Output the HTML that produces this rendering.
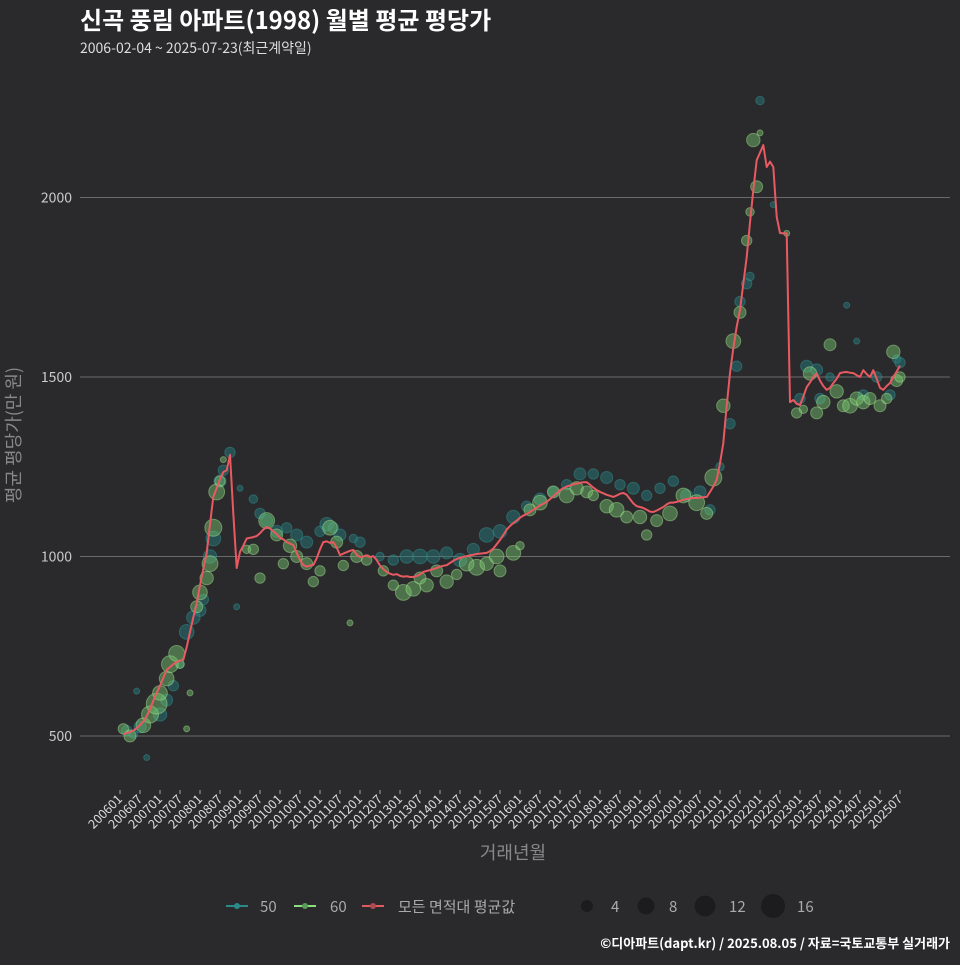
<!DOCTYPE html>
<html><head><meta charset="utf-8">
<style>
html,body{margin:0;padding:0;background:#2a2a2c;}
body{width:960px;height:960px;overflow:hidden;font-family:"Noto Sans CJK KR","Liberation Sans",sans-serif;}
svg text{font-family:"Noto Sans CJK KR","Liberation Sans",sans-serif;}
</style></head>
<body>
<svg id="chart" width="960" height="960" xmlns="http://www.w3.org/2000/svg">
<rect width="960" height="960" fill="#2a2a2c"/>
<text x="80" y="29" fill="#ffffff" font-size="24" font-weight="bold">신곡 풍림 아파트(1998) 월별 평균 평당가</text>
<text x="80" y="53" fill="#dddddd" font-size="14">2006-02-04 ~ 2025-07-23(최근계약일)</text>
<g id="grid"></g>
<g id="yticks"></g>
<g id="xticks"></g>
<g id="pts50"></g>
<g id="pts60"></g>
<g id="avg"></g>
<text transform="translate(20,435) rotate(-90)" text-anchor="middle" fill="#888" font-size="18">평균 평당가(만 원)</text>
<text x="513" y="859" text-anchor="middle" fill="#888" font-size="18">거래년월</text>
<g>
  <g>
    <line x1="226" y1="906" x2="248" y2="906" stroke="#2a8a8a" stroke-width="2"/><circle cx="237" cy="906" r="3" fill="#2a8a8a"/>
    <text x="260" y="912" fill="#aaa" font-size="15">50</text></g>
  <g>
    <line x1="294" y1="906" x2="316" y2="906" stroke="#8be07e" stroke-width="2"/><circle cx="305" cy="906" r="3" fill="#5a9a5a"/>
    <text x="330" y="912" fill="#aaa" font-size="15">60</text></g>
  <g>
    <line x1="362" y1="906" x2="384" y2="906" stroke="#e05a62" stroke-width="2"/><circle cx="373" cy="906" r="3" fill="#b04a52"/>
    <text x="398" y="912" fill="#aaa" font-size="15">모든 면적대 평균값</text></g>
  <g><circle cx="587" cy="906" r="6" fill="#1c1c1e"/><text x="611" y="912" fill="#aaa" font-size="15">4</text></g>
  <g><circle cx="646" cy="906" r="8.5" fill="#1c1c1e"/><text x="669" y="912" fill="#aaa" font-size="15">8</text></g>
  <g><circle cx="705" cy="906" r="10.4" fill="#1c1c1e"/><text x="729" y="912" fill="#aaa" font-size="15">12</text></g>
  <g><circle cx="773" cy="906" r="12" fill="#1c1c1e"/><text x="797" y="912" fill="#aaa" font-size="15">16</text></g>
</g>
<text x="950" y="948" text-anchor="end" fill="#ffffff" font-size="13" font-weight="bold">©디아파트(dapt.kr) / 2025.08.05 / 자료=국토교통부 실거래가</text>
</svg>
<script>
const yTicks = [500, 1000, 1500, 2000];
const xTickLabels = ["200601","200607","200701","200707","200801","200807","200901","200907","201001","201007","201101","201107","201201","201207","201301","201307","201401","201407","201501","201507","201601","201607","201701","201707","201801","201807","201901","201907","202001","202007","202101","202107","202201","202207","202301","202307","202401","202407","202501","202507"];
const avgStartMonth = 1; // 2006-02
const avgValues = [505,508,511,515,522,530,540,555,575,598,
620,640,662,684,692,700,706,710,712,748,
790,830,870,920,965,1010,1090,1166,1190,1215,
1235,1240,1283,1120,968,
1013,1030,1050,1052,1054,1057,1065,1075,1082,1078,
1070,1062,1052,1048,1040,1036,1032,1010,990,976,
972,975,976,995,1020,1040,1042,1038,1040,1025,
1004,1008,1012,1016,1018,1005,998,1000,1003,998,
1001,990,975,965,957,952,949,951,946,944,
945,943,943,946,950,957,960,962,965,968,
972,974,976,982,988,993,996,999,1001,1003,
1005,1007,1008,1009,1010,1015,1022,1034,1046,1060,
1075,1085,1093,1100,1108,1114,1118,1124,1130,1136,
1142,1147,1152,1160,1168,1176,1185,1190,1195,1198,
1201,1203,1205,1207,1207,1200,1192,1185,1180,1176,
1172,1169,1166,1170,1175,1177,1172,1160,1148,1140,
1138,1135,1130,1125,1124,1128,1133,1138,1145,1150,
1150,1152,1155,1158,1160,1162,1163,1163,1164,1165,
1166,1180,1195,1213,1260,1316,1420,1511,1580,1640,
1687,1760,1834,1930,2020,2104,2125,2146,2085,2100,
2085,1946,1901,1900,1900,1430,1436,1425,1422,1445,
1472,1485,1500,1510,1490,1475,1464,1470,1483,1495,
1511,1513,1514,1512,1511,1505,1500,1519,1508,1500,
1519,1495,1470,1464,1475,1483,1500,1515,1532];
const series50 = [[2,515,3],[4,505,2],[6,525,4],[5,625,1],[8,440,1],[12,560,5],[14,600,4],[16,640,3],[18,700,2],[20,790,6],[22,830,5],[24,850,4],[25,880,3],[27,1000,5],[28,1050,6],[30,1210,4],[31,1240,3],[33,1290,3],[35,860,1],[36,1190,1],[40,1160,2],[42,1120,3],[44,1100,4],[47,1070,4],[50,1080,3],[53,1060,4],[56,1040,4],[60,1070,3],[62,1090,5],[64,1080,3],[66,1060,4],[70,1050,2],[72,1040,3],[78,1000,2],[82,990,3],[86,1000,5],[90,1000,6],[94,1000,5],[98,1010,4],[102,990,5],[106,1020,4],[110,1060,6],[114,1070,5],[118,1110,5],[122,1140,3],[126,1160,4],[130,1180,3],[134,1200,3],[138,1230,4],[142,1230,3],[146,1220,4],[150,1200,3],[154,1190,4],[158,1170,3],[162,1190,3],[166,1210,3],[170,1170,4],[174,1180,4],[177,1130,3],[180,1250,2],[183,1370,3],[185,1530,3],[186,1710,3],[188,1760,3],[189,1780,2],[192,2270,2],[196,1980,1],[204,1440,3],[206,1530,4],[209,1520,4],[210,1440,3],[213,1500,2],[218,1700,1],[221,1600,1],[223,1450,3],[227,1500,3],[231,1450,3],[233,1550,2],[234,1540,3]];
const series60 = [[1,520,3],[3,500,4],[7,530,6],[9,560,8],[11,590,12],[12,620,6],[14,660,6],[15,700,8],[17,730,7],[18,700,2],[20,520,1],[21,620,1],[23,860,4],[24,900,6],[26,940,5],[27,980,7],[28,1080,8],[29,1180,7],[30,1210,3],[31,1270,1],[38,1020,2],[40,1020,3],[42,940,3],[44,1100,7],[47,1060,4],[49,980,3],[51,1030,5],[53,1000,4],[56,980,4],[58,930,3],[60,960,3],[63,1080,6],[65,1040,4],[67,975,3],[69,815,1],[71,1000,4],[74,990,3],[79,960,3],[82,920,3],[85,900,7],[88,910,6],[90,940,4],[92,920,5],[95,960,4],[98,930,5],[101,950,3],[104,980,6],[107,970,7],[110,980,5],[113,1000,6],[114,960,4],[118,1010,6],[120,1030,2],[123,1130,4],[126,1150,6],[130,1180,4],[134,1170,6],[137,1190,5],[140,1180,4],[142,1170,3],[146,1140,5],[149,1130,6],[152,1110,4],[156,1110,5],[158,1060,3],[161,1100,4],[165,1120,6],[169,1170,6],[173,1150,7],[176,1120,4],[178,1220,8],[181,1420,5],[184,1600,6],[186,1680,4],[188,1880,3],[189,1960,2],[190,2160,5],[191,2030,4],[192,2180,1],[200,1900,1],[203,1400,3],[205,1410,2],[207,1510,5],[209,1400,4],[211,1430,5],[213,1590,4],[215,1460,5],[217,1420,4],[219,1420,6],[221,1440,5],[223,1430,5],[225,1440,4],[228,1420,4],[230,1440,3],[232,1570,5],[233,1490,4],[234,1500,3]];

const NS = "http://www.w3.org/2000/svg";
function xScale(m){ return 120 + m * (20/6); }
function yScale(v){ return 736 - (v - 500) * 0.359; }
function rScale(n){ return 3 * Math.sqrt(n); }
function mk(tag, attrs, parent){ const e = document.createElementNS(NS, tag); for (const k in attrs) e.setAttribute(k, attrs[k]); parent.appendChild(e); return e; }

const grid = document.getElementById('grid'), yt = document.getElementById('yticks'), xt = document.getElementById('xticks');
yTicks.forEach(v => {
  const l = mk('line', {x1:80, x2:950, y1:yScale(v), y2:yScale(v), stroke:'#6a6a6a', 'stroke-width':1}, grid);
  
  
  const t = mk('text', {x:72, y:yScale(v)+5, 'text-anchor':'end', fill:'#cccccc', 'font-size':14}, yt);
  t.textContent = v;
  
  
});
xTickLabels.forEach((lab, i) => {
  const x = xScale(i * 6);
  const tk = mk('line', {x1:x, x2:x, y1:790, y2:794, stroke:'#aaa', 'stroke-width':1}, xt);
  
  
  const t = mk('text', {transform:`translate(${x+3},800) rotate(-45)`, 'text-anchor':'end', fill:'#dddddd', 'font-size':12.5}, xt);
  t.textContent = lab;
  
  
});
function drawPts(arr, g, fill, stroke, name){
  arr.forEach(p => {
    const c = mk('circle', {cx:xScale(p[0]), cy:yScale(p[1]), r:rScale(p[2]), fill:fill, stroke:stroke, 'stroke-width':1}, g);
    
    
  });
}
drawPts(series50, document.getElementById('pts50'), 'rgba(38,128,130,0.45)', 'rgba(50,150,150,0.45)', 'point-50');
drawPts(series60, document.getElementById('pts60'), 'rgba(120,200,110,0.45)', 'rgba(170,230,150,0.45)', 'point-60');
const d = avgValues.map((v, i) => (i ? 'L' : 'M') + xScale(avgStartMonth + i).toFixed(1) + ',' + yScale(v).toFixed(1)).join('');
const path = mk('path', {d:d, fill:'none', stroke:'#e85a62', 'stroke-width':2, 'stroke-linejoin':'round'}, document.getElementById('avg'));


</script>
</body></html>
